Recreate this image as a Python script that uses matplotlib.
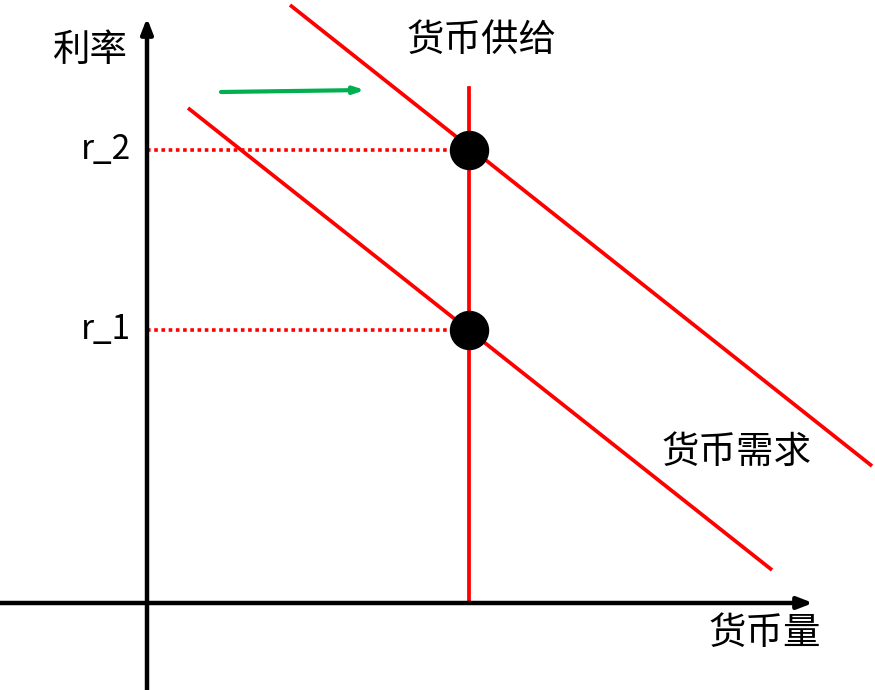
import numpy as np
import matplotlib
matplotlib.use('Agg')
import matplotlib.pyplot as plt

plt.rcParams['font.family'] = ['Noto Sans CJK SC', 'DejaVu Sans']

# coordinates measured from the axis crossing (origin), y up
demand_1_x = [41, 625]
demand_1_y = [495, 33]
demand_2_x = [143, 725]
demand_2_y = [598, 137]
supply_x = 322
supply_top = 515
eq_y = [273, 453]           # r_1, r_2
rate_labels = ['r_1', 'r_2']
shift_x = [74, 218]
shift_y = [511, 513]

fig = plt.figure(figsize=(8.75, 6.9), dpi=100)
ax = fig.add_axes([0, 0, 1, 1])
ax.set_xlim(-147, 728)
ax.set_ylim(-87, 603)
ax.axis('off')

# axes with arrow heads
ax.annotate('', xy=(666, 0), xytext=(-150, 0),
            arrowprops=dict(arrowstyle='-|>,head_length=0.9,head_width=0.35', lw=3.2, color='black',
                            shrinkA=0, shrinkB=0))
ax.annotate('', xy=(0, 585), xytext=(0, -90),
            arrowprops=dict(arrowstyle='-|>,head_length=0.9,head_width=0.35', lw=3.2, color='black',
                            shrinkA=0, shrinkB=0))

# demand curves and supply
ax.plot(demand_1_x, demand_1_y, color='#ff0000', lw=2.7, solid_capstyle='butt')
ax.plot(demand_2_x, demand_2_y, color='#ff0000', lw=2.7, solid_capstyle='butt')
ax.plot([supply_x, supply_x], [0, supply_top], color='#ff0000', lw=2.7)

# dotted guides and equilibrium points
for y, lab in zip(eq_y, rate_labels):
    ax.plot([0, supply_x], [y, y], color='#ff0000', lw=2.6, linestyle=(0, (1, 1)))
    ax.scatter([supply_x], [y], s=750, color='black', zorder=5)
    ax.text(-16, y, lab, fontsize=24, ha='right', va='center', fontweight='light')

# shift arrow
ax.annotate('', xy=(shift_x[1], shift_y[1]), xytext=(shift_x[0], shift_y[0]),
            arrowprops=dict(arrowstyle='-|>,head_length=0.6,head_width=0.2', lw=3.0, color='#00b050',
                            shrinkA=0, shrinkB=0))

ax.text(-57, 553, '利率', fontsize=27, ha='center', va='center', fontweight='light')
ax.text(335, 563, '货币供给', fontsize=27, ha='center', va='center', fontweight='light')
ax.text(590, 151, '货币需求', fontsize=27, ha='center', va='center', fontweight='light')
ax.text(618, -30, '货币量', fontsize=27, ha='center', va='center', fontweight='light')

fig.savefig('out.png', dpi=100)
